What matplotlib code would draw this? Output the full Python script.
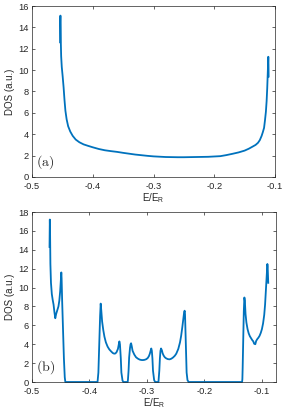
import matplotlib
matplotlib.use("Agg")
import matplotlib.pyplot as plt

plt.rcParams['font.family'] = ['Liberation Sans', 'DejaVu Sans']
plt.rcParams['mathtext.fontset'] = 'cm'

LINE_COLOR = '#0072BD'
AX_COLOR = '#262626'

# panel (a): DOS of a single band
e_a = [-0.4537, -0.4535, -0.4532, -0.4529, -0.4525, -0.452, -0.451, -0.4495, -0.448,
       -0.4465, -0.445, -0.443, -0.4405, -0.437, -0.433, -0.428, -0.422, -0.415, -0.408,
       -0.4, -0.39, -0.38, -0.37, -0.36, -0.35, -0.34, -0.33, -0.32, -0.31, -0.3, -0.29,
       -0.28, -0.27, -0.26, -0.25, -0.24, -0.23, -0.22, -0.21, -0.2, -0.19, -0.18, -0.17,
       -0.16, -0.15, -0.143, -0.137, -0.132, -0.128, -0.125, -0.122, -0.12, -0.118,
       -0.1165, -0.115, -0.1138, -0.1128, -0.112, -0.1114, -0.111, -0.1107, -0.1105]
dos_a = [12.6, 14.5, 15.1, 14.0, 12.5, 11.3, 10.3, 9.4, 8.4,
         7.2, 6.2, 5.4, 4.75, 4.25, 3.85, 3.5, 3.25, 3.05, 2.92,
         2.78, 2.62, 2.5, 2.42, 2.35, 2.26, 2.18, 2.1, 2.04, 1.98, 1.93, 1.9,
         1.87, 1.86, 1.85, 1.85, 1.86, 1.87, 1.88, 1.89, 1.92, 1.95, 2.05, 2.17,
         2.3, 2.47, 2.65, 2.84, 3.0, 3.2, 3.45, 3.85, 4.2, 4.6,
         5.3, 6.1, 7.1, 8.3, 9.6, 10.6, 11.25, 10.5, 9.4]

# panel (b): DOS with gaps
e_b = [-0.4695, -0.469, -0.4685, -0.468, -0.467, -0.4655, -0.464, -0.4625, -0.461,
       -0.4595, -0.458, -0.456, -0.454, -0.4525, -0.451, -0.4495, -0.449, -0.4485,
       -0.4475, -0.446, -0.4445, -0.443, -0.442, -0.386, -0.3845, -0.383, -0.3815,
       -0.3805, -0.3795, -0.378, -0.376, -0.374, -0.3715, -0.3685, -0.3655, -0.3625,
       -0.3595, -0.357, -0.355, -0.353, -0.3505, -0.349, -0.348, -0.347, -0.3455,
       -0.3445, -0.3425, -0.341, -0.3335, -0.333, -0.332, -0.331, -0.3295, -0.3285,
       -0.3276, -0.3265, -0.325, -0.322, -0.319, -0.316, -0.313, -0.31, -0.307,
       -0.304, -0.301, -0.2985, -0.2965, -0.295, -0.2935, -0.2925, -0.2915, -0.2905,
       -0.2895, -0.2875, -0.2857, -0.28, -0.2785, -0.2775, -0.2765, -0.2755, -0.274,
       -0.2728, -0.271, -0.269, -0.2665, -0.2635, -0.2605, -0.2575, -0.2545, -0.2515,
       -0.249, -0.2455, -0.2425, -0.2405, -0.2385, -0.237, -0.2355, -0.2345, -0.2338,
       -0.233, -0.232, -0.231, -0.2295, -0.2275, -0.1345, -0.134, -0.1335, -0.1325,
       -0.1315, -0.1305, -0.1297, -0.1285, -0.127, -0.125, -0.123, -0.121, -0.119,
       -0.117, -0.115, -0.1135, -0.1115, -0.110, -0.108, -0.106, -0.104, -0.102, -0.100,
       -0.098, -0.096, -0.0945, -0.093, -0.0915, -0.0905, -0.0900, -0.0895, -0.089]
dos_b = [14.3, 17.2, 15.5, 12.5, 10.5, 9.3, 8.7, 8.2, 7.4,
         6.75, 7.2, 7.6, 8.0, 8.6, 9.6, 11.0, 11.6, 11.0,
         8.5, 5.5, 2.5, 0.5, 0.0, 0.0, 1.0, 4.0, 7.0,
         8.3, 7.6, 6.4, 5.5, 4.8, 4.2, 3.75, 3.45, 3.25,
         3.07, 3.0, 3.02, 3.15, 3.5, 3.95, 4.3, 4.0, 2.5,
         1.0, 0.15, 0.0, 0.0, 0.3, 1.2, 2.6, 3.6, 4.0,
         4.1, 3.8, 3.3, 2.9, 2.62, 2.48, 2.38, 2.33, 2.32,
         2.35, 2.42, 2.55, 2.75, 3.0, 3.35, 3.55, 3.3, 2.5,
         1.2, 0.2, 0.0, 0.0, 1.2, 2.5, 3.3, 3.55, 3.35,
         3.05, 2.8, 2.62, 2.5, 2.42, 2.4, 2.47, 2.6, 2.78,
         3.0, 3.5, 4.2, 4.9, 5.8, 6.6, 7.3, 7.55, 7.2,
         5.5, 3.0, 1.0, 0.2, 0.0, 0.0, 0.3, 1.5, 4.5,
         7.5, 8.95, 8.6, 7.2, 6.3, 5.6, 5.15, 4.85, 4.65,
         4.45, 4.3, 4.05, 4.0, 4.35, 4.55, 4.7, 4.9, 5.2, 5.6,
         6.2, 7.1, 8.2, 9.8, 11.6, 12.5, 12.2, 11.2, 10.5]

xticks = [-0.5, -0.4, -0.3, -0.2, -0.1]
xticklabels = ['-0.5', '-0.4', '-0.3', '-0.2', '-0.1']


def style_axes(ax, xlim, ylim, yticks, tag):
    ax.set_xlim(xlim)
    ax.set_ylim(ylim)
    ax.set_xticks(xticks)
    ax.set_xticklabels(xticklabels)
    ax.set_yticks(yticks)
    ax.set_yticklabels([str(t) for t in yticks])
    ax.tick_params(direction='in', length=2.5, width=0.5, top=True, right=True,
                   labelsize=6.7, colors=AX_COLOR)
    ax.tick_params(axis='x', pad=3.5)
    ax.tick_params(axis='y', pad=2.5)
    for sp in ax.spines.values():
        sp.set_color(AX_COLOR)
        sp.set_linewidth(0.5)
    ax.set_ylabel('DOS (a.u.)', fontsize=7, color=AX_COLOR, labelpad=2)
    ax.set_xlabel(r'$\mathregular{E/E_R}$', fontsize=7, color=AX_COLOR, labelpad=0.5)
    ax.text(0.018, 0.035, r'$\mathrm{(' + tag + ')}$', transform=ax.transAxes,
            fontsize=10, color=AX_COLOR, ha='left', va='bottom')


fig = plt.figure(figsize=(2.85, 4.12), dpi=100)
ax1 = fig.add_axes([32 / 285, 1 - 177 / 412, 243 / 285, 171 / 412])
ax2 = fig.add_axes([32 / 285, 1 - 382 / 412, 244 / 285, 170 / 412])

ax1.plot(e_a, dos_a, color=LINE_COLOR, linewidth=1.3)
ax2.plot(e_b, dos_b, color=LINE_COLOR, linewidth=1.3, clip_on=False)

style_axes(ax1, (-0.5, -0.1), (0, 16), list(range(0, 17, 2)), 'a')
style_axes(ax2, (-0.5, -0.0755), (0, 18), list(range(0, 19, 2)), 'b')

fig.savefig('out.png', dpi=100)
